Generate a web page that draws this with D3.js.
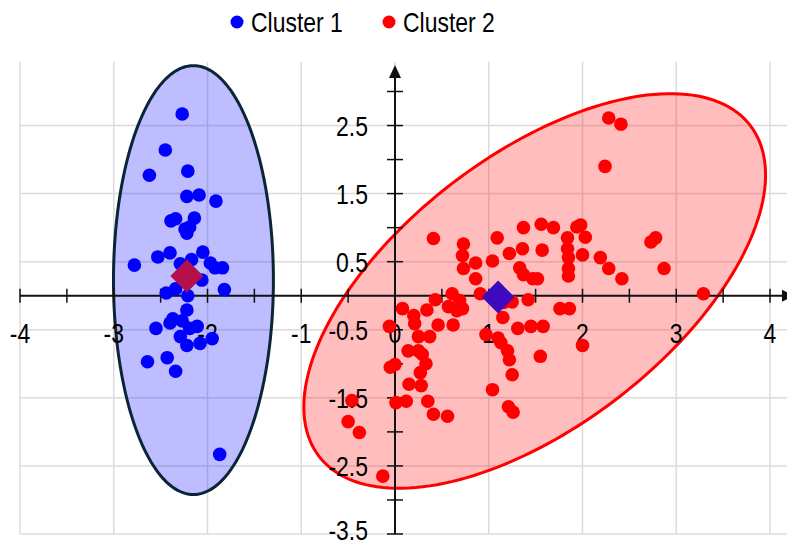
<!DOCTYPE html>
<html>
<head>
<meta charset="utf-8">
<script src="https://d3js.org/d3.v7.min.js"></script>
<style>
  body { margin: 0; background: #fff; }
  svg text { font-family: "Liberation Sans", Arial, sans-serif; }
</style>
</head>
<body>
<div id="chart"></div>
<script>
// cluster 1 points [x, y]
var cluster1 = [
  [-2.27, 2.67], [-2.45, 2.14], [-2.62, 1.77], [-2.21, 1.83], [-2.22, 1.46], [-2.09, 1.48],
  [-1.91, 1.39], [-2.39, 1.10], [-2.34, 1.13], [-2.14, 1.14], [-2.19, 1.01], [-2.24, 0.98],
  [-2.22, 0.92], [-2.78, 0.45], [-2.53, 0.57], [-2.40, 0.63], [-2.05, 0.64], [-2.29, 0.47],
  [-2.17, 0.53], [-1.97, 0.48], [-1.92, 0.41], [-1.84, 0.41], [-2.06, 0.23], [-2.34, 0.10],
  [-2.44, 0.04], [-2.21, 0.00], [-1.82, 0.09], [-2.22, -0.21], [-2.37, -0.34], [-2.40, -0.40],
  [-2.27, -0.37], [-2.11, -0.45], [-2.19, -0.48], [-2.55, -0.48], [-2.29, -0.60], [-2.22, -0.73],
  [-2.08, -0.70], [-1.95, -0.63], [-2.64, -0.97], [-2.43, -0.91], [-2.34, -1.11], [-1.87, -2.33]
];

// cluster 2 points [x, y]
var cluster2 = [
  [0.41, 0.84], [0.73, 0.76], [0.72, 0.59], [0.73, 0.40], [0.86, 0.48], [0.86, 0.25],
  [1.09, 0.85], [1.04, 0.51], [1.22, 0.62], [1.37, 1.00], [1.36, 0.69], [1.56, 1.05],
  [1.57, 0.67], [1.33, 0.41], [1.37, 0.31], [1.47, 0.25], [1.52, 0.25], [0.61, 0.03],
  [0.69, -0.07], [0.43, -0.06], [0.57, -0.16], [0.66, -0.22], [0.72, -0.19], [0.91, 0.03],
  [1.16, -0.10], [1.25, -0.09], [1.42, -0.06], [0.08, -0.19], [0.20, -0.29], [0.21, -0.41],
  [0.34, -0.21], [0.46, -0.43], [0.62, -0.43], [-0.06, -0.45], [0.25, -0.60], [0.37, -0.60],
  [0.14, -0.81], [0.25, -0.81], [0.29, -0.86], [0.33, -1.00], [0.27, -1.13], [-0.05, -1.05],
  [0.00, -1.01], [0.97, -0.57], [1.10, -0.62], [1.15, -0.32], [1.13, -0.69], [1.20, -0.81],
  [1.22, -0.94], [1.25, -1.16], [1.04, -1.38], [1.31, -0.48], [1.45, -0.45], [1.58, -0.45],
  [1.55, -0.89], [0.15, -1.30], [0.28, -1.32], [-0.46, -1.54], [0.01, -1.57], [0.12, -1.55],
  [0.35, -1.55], [0.41, -1.74], [0.56, -1.77], [1.21, -1.63], [1.26, -1.71], [-0.50, -1.85],
  [-0.38, -2.01], [-0.13, -2.65], [2.28, 2.61], [2.41, 2.52], [2.24, 1.90], [1.69, 1.00],
  [1.94, 1.01], [1.98, 1.04], [2.03, 0.86], [1.84, 0.85], [1.84, 0.69], [1.85, 0.56],
  [2.00, 0.60], [2.19, 0.56], [2.28, 0.40], [2.42, 0.25], [2.73, 0.79], [2.78, 0.85],
  [2.87, 0.40], [1.85, 0.40], [1.85, 0.29], [3.29, 0.03], [1.76, -0.19], [1.86, -0.19],
  [2.00, -0.73]
];

// centroids
var centroids = [[-2.22, 0.29], [1.10, -0.02]];

// ellipses: centre and two conjugate half-axes, in data units
var ellipseCentres = [[-2.15, 0.23], [1.49, 0.07]];
var ellipseAxisU = [[0.853, 0], [2.30, 2.43]];
var ellipseAxisV = [[0, 3.15], [0.88, -1.58]];

var xTickLabels = [-4, -3, -2, -1, 0, 1, 2, 3, 4];
var yTickLabels = [-3.5, -2.5, -1.5, -0.5, 0.5, 1.5, 2.5];
var seriesNames = ["Cluster 1", "Cluster 2"];

var width = 787, height = 546;
var pointColors = ["#0000ff", "#ff0000"];
var ellipseFill = ["rgba(0,0,255,0.26)", "rgba(255,0,0,0.26)"];
var ellipseStroke = ["#0a2535", "#ff0000"];
var centroidColors = ["#b3104c", "#3d0abd"];
var narrow = 0.82; // squeeze text to look like a narrow face

var x = d3.scaleLinear().domain([-4, 4]).range([20, 770]);
var y = d3.scaleLinear().domain([-3.5, 3]).range([534, 91.5]);

var svg = d3.select("#chart").append("svg")
  .attr("width", width).attr("height", height);

function place(px, py) {
  return "translate(" + px + "," + py + ") scale(" + narrow + ",1)";
}

// grid
var grid = svg.append("g");
grid.selectAll(".vg").data(xTickLabels).enter().append("line")
  .attr("x1", function(d) { return x(d); }).attr("x2", function(d) { return x(d); })
  .attr("y1", y(-3.5)).attr("y2", 62)
  .attr("stroke", "#dcdcdc").attr("stroke-width", 1.5);
grid.selectAll(".hg").data(yTickLabels).enter().append("line")
  .attr("x1", x(-4)).attr("x2", width)
  .attr("y1", function(d) { return y(d); }).attr("y2", function(d) { return y(d); })
  .attr("stroke", "#dcdcdc").attr("stroke-width", 1.5);

// ellipses
var ellipseLine = d3.line().curve(d3.curveLinearClosed);
ellipseCentres.forEach(function(c, i) {
  var pts = d3.range(0, 2 * Math.PI, Math.PI / 90).map(function(t) {
    var ex = c[0] + ellipseAxisU[i][0] * Math.cos(t) + ellipseAxisV[i][0] * Math.sin(t);
    var ey = c[1] + ellipseAxisU[i][1] * Math.cos(t) + ellipseAxisV[i][1] * Math.sin(t);
    return [x(ex), y(ey)];
  });
  svg.append("path")
    .attr("d", ellipseLine(pts))
    .attr("fill", ellipseFill[i])
    .attr("stroke", ellipseStroke[i])
    .attr("stroke-width", 3);
});

// axes
var axisColor = "#111";
var axes = svg.append("g");
axes.append("line").attr("x1", x(-4)).attr("x2", 782)
  .attr("y1", y(0)).attr("y2", y(0)).attr("stroke", axisColor).attr("stroke-width", 2);
axes.append("path").attr("d", "M782," + (y(0) - 6) + "L794," + y(0) + "L782," + (y(0) + 6) + "Z")
  .attr("fill", axisColor);
axes.append("line").attr("x1", x(0)).attr("x2", x(0))
  .attr("y1", y(-3.5)).attr("y2", 77).attr("stroke", axisColor).attr("stroke-width", 2);
axes.append("path").attr("d", "M" + (x(0) - 6) + ",78L" + x(0) + ",65L" + (x(0) + 6) + ",78Z")
  .attr("fill", axisColor);

var xTicks = d3.range(-4, 4.01, 0.5).filter(function(d) { return d !== 0; });
var yTicks = d3.range(-3.5, 3.01, 0.5).filter(function(d) { return d !== 0; });
axes.selectAll(".xt").data(xTicks).enter().append("line")
  .attr("x1", function(d) { return x(d); }).attr("x2", function(d) { return x(d); })
  .attr("y1", y(0) - 7).attr("y2", y(0) + 7)
  .attr("stroke", axisColor).attr("stroke-width", 1.5);
axes.selectAll(".yt").data(yTicks).enter().append("line")
  .attr("x1", x(0) - 8).attr("x2", x(0) + 8)
  .attr("y1", function(d) { return y(d); }).attr("y2", function(d) { return y(d); })
  .attr("stroke", axisColor).attr("stroke-width", 1.5);

axes.selectAll(".xl").data(xTickLabels).enter().append("text")
  .attr("transform", function(d) { return place(x(d), 343); })
  .attr("text-anchor", "middle").attr("font-size", 28).attr("fill", "#000")
  .text(function(d) { return d; });
axes.selectAll(".yl").data(yTickLabels).enter().append("text")
  .attr("transform", function(d) { return place(368, Math.min(y(d) + 10, 540)); })
  .attr("text-anchor", "end").attr("font-size", 28).attr("fill", "#000")
  .text(function(d) { return d; });

// points
[cluster1, cluster2].forEach(function(data, i) {
  svg.append("g").selectAll("circle").data(data).enter().append("circle")
    .attr("cx", function(d) { return x(d[0]); })
    .attr("cy", function(d) { return y(d[1]); })
    .attr("r", 6.8)
    .attr("fill", pointColors[i]);
});

// centroids
svg.append("g").selectAll("path").data(centroids).enter().append("path")
  .attr("transform", function(d) { return "translate(" + x(d[0]) + "," + y(d[1]) + ")"; })
  .attr("d", "M0,-16.5L16.5,0L0,16.5L-16.5,0Z")
  .attr("fill", function(d, i) { return centroidColors[i]; });

// legend
var legendX = [237, 389];
var legend = svg.append("g");
seriesNames.forEach(function(name, i) {
  legend.append("circle").attr("cx", legendX[i]).attr("cy", 22).attr("r", 6.5).attr("fill", pointColors[i]);
  legend.append("text").attr("transform", place(legendX[i] + 14, 32))
    .attr("font-size", 28).attr("fill", "#000").text(name);
});
</script>
</body>
</html>
